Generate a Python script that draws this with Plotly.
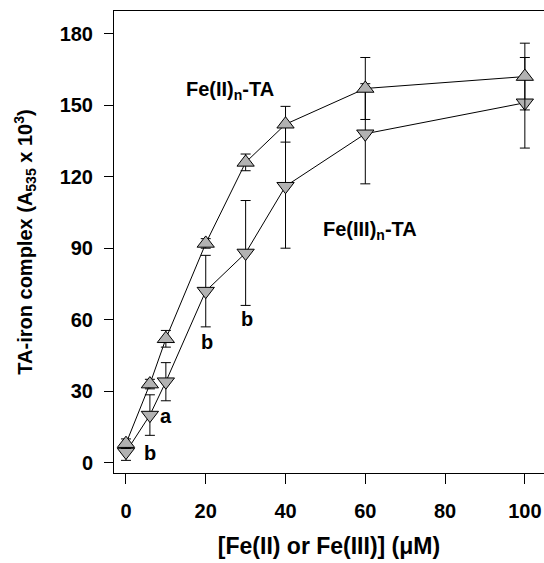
import plotly.graph_objects as go

conc = [0, 6, 10, 20, 30, 40, 60, 100]
fe2_vals = [8, 33, 52, 92, 126, 142, 157, 162]
fe2_err = [2, 2, 3.5, 2, 3.5, 7.5, 13, 14]
fe3_vals = [4.5, 20, 34, 72, 88, 116, 138, 151]
fe3_err = [3.5, 8.5, 8, 15, 22, 26, 21, 19]
x_ticks = [0, 20, 40, 60, 80, 100]
y_ticks = [0, 30, 60, 90, 120, 150, 180]

FONT = "Liberation Sans, Arial, Helvetica, sans-serif"
GRAY = "#b2b2b2"

fig = go.Figure()
fig.add_trace(go.Scatter(
    x=conc, y=fe3_vals, mode="lines+markers", name="Fe(III)n-TA",
    line=dict(color="black", width=1),
    marker=dict(symbol="triangle-down", size=15, color=GRAY,
                line=dict(color="black", width=1)),
    error_y=dict(type="data", array=fe3_err, color="black", thickness=1, width=5),
))
fig.add_trace(go.Scatter(
    x=conc, y=fe2_vals, mode="lines+markers", name="Fe(II)n-TA",
    line=dict(color="black", width=1),
    marker=dict(symbol="triangle-up", size=15, color=GRAY,
                line=dict(color="black", width=1)),
    error_y=dict(type="data", array=fe2_err, color="black", thickness=1, width=5),
))

ann_font = dict(family=FONT, size=20, color="black", weight="bold")
labels = [
    ("Fe(II)<sub>n</sub>-TA", 26.0, 156.0),
    ("Fe(III)<sub>n</sub>-TA", 61.2, 97.5),
    ("a", 10.0, 19.5),
    ("b", 6.0, 4.0),
    ("b", 20.3, 50.5),
    ("b", 30.3, 60.5),
]
for txt, ax_, ay_ in labels:
    fig.add_annotation(x=ax_, y=ay_, text=txt, showarrow=False,
                       xref="x", yref="y", font=ann_font,
                       xanchor="center", yanchor="middle")

fig.update_layout(
    width=544, height=563,
    margin=dict(l=114, r=0, t=11, b=90),
    paper_bgcolor="white", plot_bgcolor="white",
    showlegend=False,
    font=dict(family=FONT, size=20, color="black"),
)
fig.update_xaxes(
    range=[-3.0, 104.8], tickvals=x_ticks, ticks="outside", ticklen=10,
    tickcolor="black", tickwidth=1, showline=True, linecolor="black",
    linewidth=1, mirror=True, showgrid=False, zeroline=False,
    ticklabelstandoff=10,
    tickfont=dict(family=FONT, size=20, weight="bold"),
    title=dict(text="[Fe(II) or Fe(III)] (μM)", standoff=16,
               font=dict(family=FONT, size=23, weight="bold")),
)
fig.update_yaxes(
    range=[-4.3, 189.5], tickvals=y_ticks, ticks="outside", ticklen=9,
    tickcolor="black", tickwidth=1, showline=True, linecolor="black",
    linewidth=1, mirror=False, showgrid=False, zeroline=False,
    ticklabelstandoff=7,
    tickfont=dict(family=FONT, size=20, weight="bold"),
    title=dict(text="TA-iron complex (A<sub>535</sub> x 10<sup>3</sup>)", standoff=21,
               font=dict(family=FONT, size=20, weight="bold")),
)

fig.write_html(
    "out.html",
    config={"displayModeBar": False},
    post_script="document.body.style.margin='0';document.body.style.overflow='hidden';",
)
